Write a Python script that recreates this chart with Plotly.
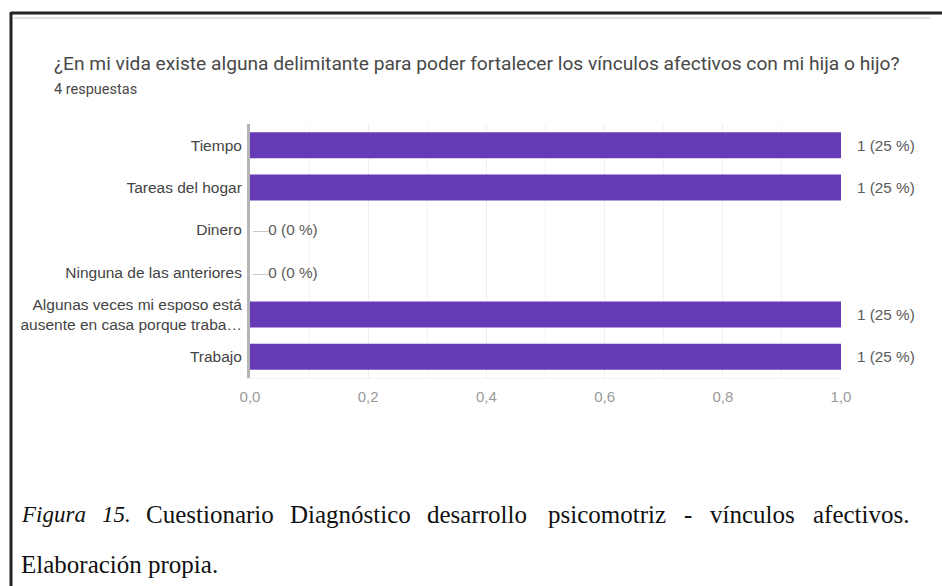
import plotly.graph_objects as go

# ---- data ----
categories = [
    "Tiempo",
    "Tareas del hogar",
    "Dinero",
    "Ninguna de las anteriores",
    "Algunas veces mi esposo está<br>ausente en casa porque traba…",
    "Trabajo",
]
counts = [1, 1, 0, 0, 1, 1]
x_ticks = [0.0, 0.2, 0.4, 0.6, 0.8, 1.0]

title_text = "¿En mi vida existe alguna delimitante para poder fortalecer los vínculos afectivos con mi hija o hijo?"
subtitle_text = f"{sum(counts)} respuestas"
caption_line1 = ["<i>Figura</i>", "<i>15.</i>", "Cuestionario", "Diagnóstico", "desarrollo",
                 "psicomotriz", "-", "vínculos", "afectivos."]
caption_line1_px = [19, 100, 144, 288, 425, 546, 682, 708, 811]
caption_line2 = "Elaboración propia."

# ---- layout geometry (pixels) ----
FW, FH = 942, 586
L, R, T, B = 250, 101, 124, 208
PW, PH = FW - L - R, FH - T - B


def px(x):
    return (x - L) / PW


def py(y):
    return 1 - (y - T) / PH


total = sum(counts)
purple = "#673AB7"

fig = go.Figure()
fig.add_trace(go.Bar(
    y=categories, x=counts, orientation="h",
    marker=dict(color=purple, line=dict(width=0)),
    hoverinfo="skip", showlegend=False,
))

annotations = []
for c, v in zip(categories, counts):
    pct = round(v / total * 100)
    if v == 0:
        txt = f"<span style='color:#c8c8c8'>—</span>{v} ({pct} %)"
        shift = 1
    else:
        txt = f"{v} ({pct} %)"
        shift = 14
    annotations.append(dict(
        x=v, y=c, xref="x", yref="y", text=txt, showarrow=False,
        xanchor="left", yanchor="middle", xshift=shift,
        font=dict(family="Liberation Sans, Arial", size=15.3, color="#5a5a5a"),
    ))

# title & subtitle
annotations.append(dict(
    x=px(52), y=py(64), xref="paper", yref="paper", text=title_text,
    showarrow=False, xanchor="left", yanchor="middle",
    font=dict(family="Roboto", size=19.2, color="#484848"),
))
annotations.append(dict(
    x=px(52), y=py(89), xref="paper", yref="paper", text=subtitle_text,
    showarrow=False, xanchor="left", yanchor="middle",
    font=dict(family="Roboto", size=14.5, color="#484848"),
))

# caption (justified first line)
for w, xp in zip(caption_line1, caption_line1_px):
    italic = w.startswith("<i>")
    annotations.append(dict(
        x=px(xp), y=py(514), xref="paper", yref="paper", text=w,
        showarrow=False, xanchor="left", yanchor="middle",
        font=dict(family="Liberation Serif, Times New Roman", size=23 if italic else 25,
                  color="#111111"),
    ))
annotations.append(dict(
    x=px(19), y=py(564), xref="paper", yref="paper", text=caption_line2,
    showarrow=False, xanchor="left", yanchor="middle",
    font=dict(family="Liberation Serif, Times New Roman", size=25, color="#111111"),
))

shapes = [
    dict(type="line", xref="paper", yref="paper", x0=px(11), x1=px(FW), y0=py(13), y1=py(13),
         line=dict(color="#222222", width=3)),
    dict(type="line", xref="paper", yref="paper", x0=px(14), x1=px(930), y0=py(18), y1=py(18),
         line=dict(color="#e2e2e2", width=2)),
    dict(type="line", xref="paper", yref="paper", x0=px(11), x1=px(11), y0=py(12), y1=py(FH),
         line=dict(color="#222222", width=3)),
]

fig.update_layout(
    width=FW, height=FH,
    margin=dict(l=L, r=R, t=T, b=B, pad=0),
    paper_bgcolor="white", plot_bgcolor="white",
    bargap=0.385,
    annotations=annotations,
    shapes=shapes,
    separators=",.",
    font=dict(family="Liberation Sans, Arial", size=15, color="#444444"),
)
fig.update_xaxes(
    range=[0, 1], tickvals=x_ticks, tickformat=".1f",
    showgrid=True, gridcolor="#efefef", gridwidth=1,
    minor=dict(dtick=0.1, showgrid=True, gridcolor="#f3f3f3", gridwidth=1),
    zeroline=False, showline=True, linecolor="#f0f0f0", mirror=False,
    tickfont=dict(family="Liberation Sans, Arial", size=15, color="#9a9a9a"),
    ticks="", ticklabelstandoff=5,
)
fig.update_yaxes(
    autorange="reversed", showgrid=False, zeroline=False,
    showline=True, linecolor="#b5b5b5", linewidth=3,
    ticks="", ticklabelstandoff=2,
    tickfont=dict(family="Liberation Sans, Arial", size=15.5, color="#444444"),
)

fig.write_html(
    "out.html",
    config={"displayModeBar": False},
    post_script="document.body.style.margin='0';document.body.style.overflow='hidden';",
)
